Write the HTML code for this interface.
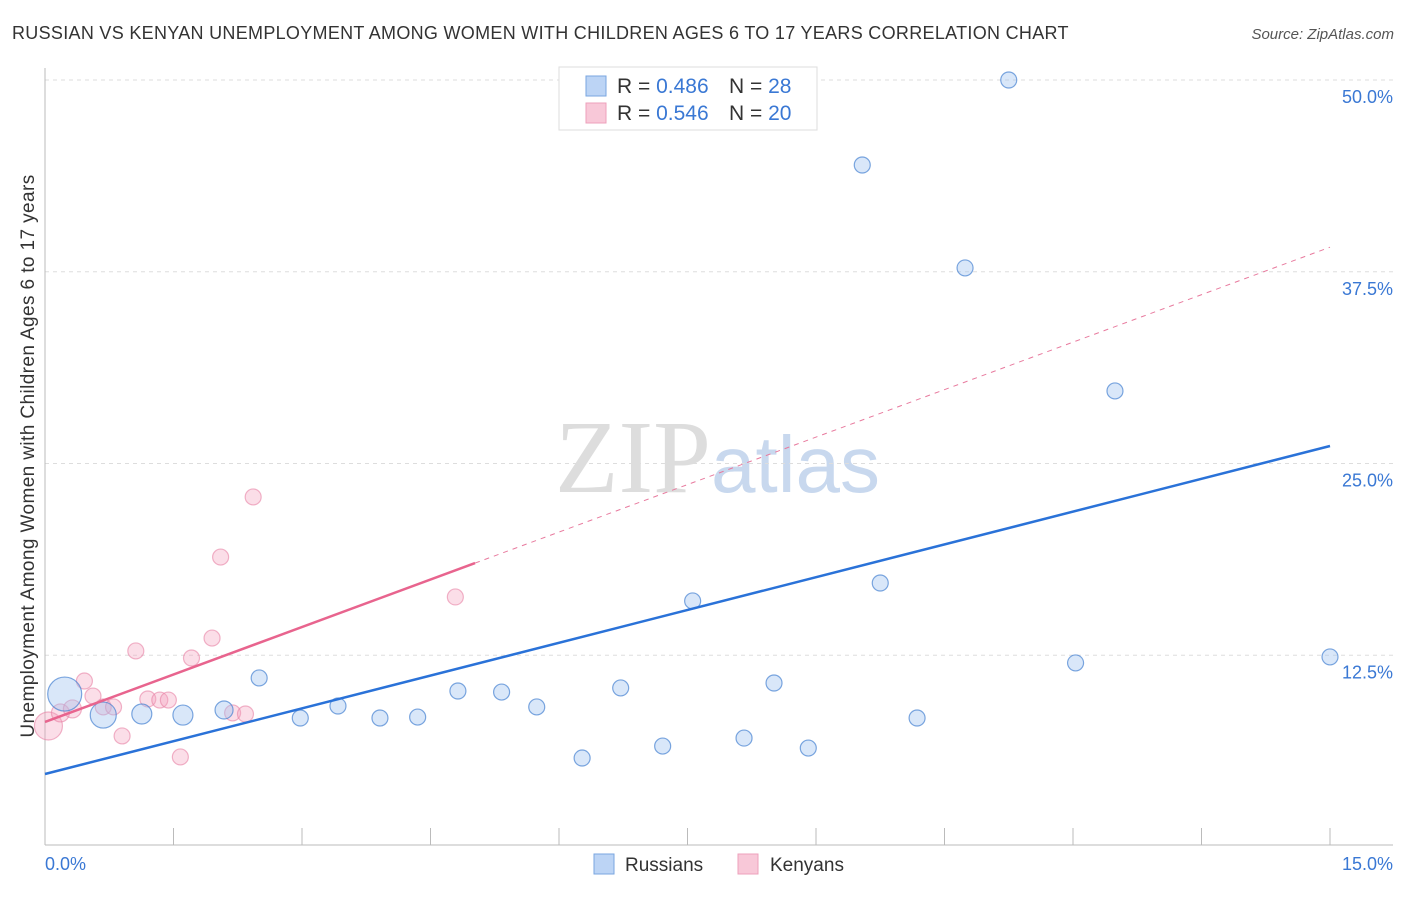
<!DOCTYPE html>
<html><head><meta charset="utf-8"><style>
body{margin:0;background:#fff;font-family:"Liberation Sans",sans-serif}
</style></head><body>
<svg width="1406" height="892" xmlns="http://www.w3.org/2000/svg" font-family="Liberation Sans, sans-serif">
<text x="12" y="39" font-size="18" letter-spacing="0.3" fill="#333">RUSSIAN VS KENYAN UNEMPLOYMENT AMONG WOMEN WITH CHILDREN AGES 6 TO 17 YEARS CORRELATION CHART</text>
<text x="1394" y="39" font-size="15" fill="#555" text-anchor="end" font-style="italic">Source: ZipAtlas.com</text>
<text x="555" y="492" font-size="104" fill="#ddd" font-family="Liberation Serif, serif">ZIP<tspan fill="#c8d8ee" font-family="Liberation Sans, sans-serif" font-size="80">atlas</tspan></text>
<g id="grid"></g>
<g id="marks"></g>
<text transform="translate(34,456) rotate(-90)" font-size="19" letter-spacing="0.4" fill="#333" text-anchor="middle">Unemployment Among Women with Children Ages 6 to 17 years</text>
<text x="45" y="870" font-size="18" fill="#3a78d4">0.0%</text>
<text x="1393" y="870" font-size="18" fill="#3a78d4" text-anchor="end">15.0%</text>
<g>
<rect x="559" y="67" width="258" height="63" fill="#fff" stroke="#ddd"/>
<rect x="586" y="76" width="20" height="20" fill="#bcd4f5" stroke="#7aa6e0"/>
<rect x="586" y="103" width="20" height="20" fill="#f8c8d8" stroke="#eea0bb"/>
<text x="617" y="93" font-size="21" fill="#333">R = <tspan fill="#3a78d4">0.486</tspan><tspan x="729">N = </tspan><tspan fill="#3a78d4">28</tspan></text>
<text x="617" y="120" font-size="21" fill="#333">R = <tspan fill="#3a78d4">0.546</tspan><tspan x="729">N = </tspan><tspan fill="#3a78d4">20</tspan></text>
</g>
<g>
<rect x="594" y="854" width="20" height="20" fill="#bcd4f5" stroke="#7aa6e0"/>
<text x="625" y="871" font-size="19" fill="#333">Russians</text>
<rect x="738" y="854" width="20" height="20" fill="#f8c8d8" stroke="#eea0bb"/>
<text x="770" y="871" font-size="19" fill="#333">Kenyans</text>
</g>
</svg>
<script>
const yTicks=[12.5,25,37.5,50];
const yTickLabels=["12.5%","25.0%","37.5%","50.0%"];
const rusX=[0.23,0.68,1.13,1.61,2.09,2.5,2.98,3.42,3.91,4.35,4.82,5.33,5.74,6.27,6.72,7.21,7.56,8.16,8.51,8.91,9.54,9.75,10.18,10.74,11.25,12.03,12.49,15.0];
const rusY=[9.97,8.6,8.67,8.6,8.93,11.02,8.41,9.19,8.41,8.47,10.17,10.1,9.13,5.8,10.37,6.58,16.04,7.1,10.69,6.45,44.46,17.21,8.41,37.75,50.0,12.0,29.73,12.39];
const rusSize=[17,13,10,10,9,8,8,8,8,8,8,8,8,8,8,8,8,8,8,8,8,8,8,8,8,8,8,8];
const kenX=[0.04,0.18,0.32,0.46,0.56,0.68,0.8,0.9,1.06,1.2,1.34,1.44,1.58,1.71,1.95,2.05,2.19,2.34,2.43,4.79];
const kenY=[7.89,8.74,9.0,10.82,9.84,9.13,9.13,7.24,12.78,9.65,9.58,9.58,5.87,12.32,13.62,18.9,8.74,8.67,22.82,16.3];
const kenSize=[14,9,9,8,8,8,8,8,8,8,8,8,8,8,8,8,8,8,8,8];
const rusTrend=[4.76,26.14];
const kenTrend=[8.15,39.1];
const kenSolidEnd=5.02;

const NS="http://www.w3.org/2000/svg";
const X0=45,X1=1330,Y0=847,YTOP=80;
function xs(v){return X0+(v/15)*(X1-X0);}
function ys(v){return Y0-(v/50)*(Y0-YTOP);}
function mk(tag,at,parent){const e=document.createElementNS(NS,tag);for(const k in at)e.setAttribute(k,at[k]);parent.appendChild(e);return e;}
const grid=document.getElementById('grid'),marks=document.getElementById('marks');
yTicks.forEach((t,i)=>{
 const g=mk('line',{x1:45,x2:1393,y1:ys(t),y2:ys(t),stroke:'#ddd','stroke-dasharray':'4,4'},grid);
 
 
 const l=mk('text',{x:1393,y:ys(t)+23,'font-size':18,fill:'#3a78d4','text-anchor':'end'},grid);
 l.textContent=yTickLabels[i];
 
 
});
const ax=mk('line',{x1:45,x2:45,y1:68,y2:845,stroke:'#bbb'},grid);


const bx=mk('line',{x1:45,x2:1393,y1:845,y2:845,stroke:'#bbb'},grid);


for(let k=0;k<=10;k++){
 const t=mk('line',{x1:xs(k*1.5),x2:xs(k*1.5),y1:828,y2:845,stroke:'#bbb'},grid);
 
 
}
kenX.forEach((x,i)=>{
 const c=mk('circle',{cx:xs(x),cy:ys(kenY[i]),r:kenSize[i],fill:'rgba(244,160,188,0.35)',stroke:'rgba(232,130,165,0.6)','stroke-width':1.2},marks);
 
 
});
rusX.forEach((x,i)=>{
 const c=mk('circle',{cx:xs(x),cy:ys(rusY[i]),r:rusSize[i],fill:'rgba(160,196,240,0.4)',stroke:'rgba(70,130,210,0.7)','stroke-width':1.2},marks);
 
 
});
const kAt=v=>kenTrend[0]+(kenTrend[1]-kenTrend[0])*v/15;
const kd=mk('line',{x1:xs(kenSolidEnd),y1:ys(kAt(kenSolidEnd)),x2:xs(15),y2:ys(kenTrend[1]),stroke:'#e87a9e','stroke-width':1,'stroke-dasharray':'5,5'},marks);


const ks=mk('line',{x1:xs(0),y1:ys(kenTrend[0]),x2:xs(kenSolidEnd),y2:ys(kAt(kenSolidEnd)),stroke:'#e8648e','stroke-width':2.5},marks);


const rl=mk('line',{x1:xs(0),y1:ys(rusTrend[0]),x2:xs(15),y2:ys(rusTrend[1]),stroke:'#2a72d8','stroke-width':2.5},marks);


</script>
</body></html>
